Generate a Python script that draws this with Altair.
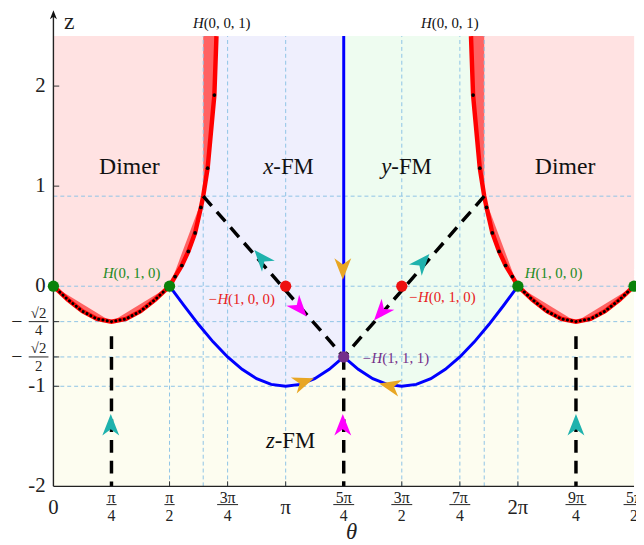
import altair as alt
import pandas as pd

# theta values are in units of pi
low_l_t = [0, 0.0625, 0.125, 0.1875, 0.25, 0.3125, 0.375, 0.4375, 0.5]
low_l_z = [0, -0.135, -0.25, -0.327, -0.354, -0.327, -0.25, -0.135, 0]
low_r_t = [2.0, 2.0625, 2.125, 2.1875, 2.25, 2.3125, 2.375, 2.4375, 2.5]
low_r_z = [0, -0.135, -0.25, -0.327, -0.354, -0.327, -0.25, -0.135, 0]
up_l_t = [0.5, 0.524, 0.553, 0.581, 0.610, 0.635, 0.645, 0.664, 0.693, 0.702]
up_l_z = [0, 0.096, 0.207, 0.348, 0.533, 0.787, 0.9, 1.18, 1.91, 2.5]
up_r_t = [1.798, 1.807, 1.836, 1.855, 1.865, 1.890, 1.919, 1.947, 1.976, 2.0]
up_r_z = [2.5, 1.91, 1.18, 0.9, 0.787, 0.533, 0.348, 0.207, 0.096, 0]
dot_l_t = [0.524, 0.553, 0.581, 0.610, 0.635, 0.664, 0.693]
dot_l_z = [0.096, 0.207, 0.348, 0.533, 0.787, 1.18, 1.91]
dot_r_t = [1.807, 1.836, 1.865, 1.890, 1.919, 1.947, 1.976]
dot_r_z = [1.91, 1.18, 0.787, 0.533, 0.348, 0.207, 0.096]
pink_l_t = [0, 0.25, 0.5, 0.645]
pink_l_z = [0, -0.354, 0, 0.9]
pink_r_t = [1.855, 2.0, 2.25, 2.5]
pink_r_z = [0.9, 0, -0.354, 0]
blue_l_t = [0.5, 0.5625, 0.625, 0.6875, 0.75, 0.8125, 0.875, 0.9375, 1.0, 1.0625, 1.125, 1.1875, 1.25]
blue_l_z = [0, -0.195, -0.383, -0.556, -0.707, -0.831, -0.924, -0.981, -1.0, -0.981, -0.924, -0.831, -0.707]
blue_r_t = [1.25, 1.3125, 1.375, 1.4375, 1.5, 1.5625, 1.625, 1.6875, 1.75, 1.8125, 1.875, 1.9375, 2.0]
blue_r_z = [-0.707, -0.831, -0.924, -0.981, -1.0, -0.981, -0.924, -0.831, -0.707, -0.556, -0.383, -0.195, 0]
grid_v_full = [0.645, 0.75, 1.0, 1.5, 1.75, 1.855]
grid_v_part = [0.5, 2.0]
grid_h = [0.9, 0, -0.354, -0.707, -1.0]
dash_seg = [0, 0, 1, 1, 2, 2, 3, 3, 4, 4]
dash_t = [0.645, 1.25, 1.855, 1.25, 0.25, 0.25, 1.25, 1.25, 2.25, 2.25]
dash_z = [0.9, -0.707, 0.9, -0.707, -0.5, -2.0, -0.707, -2.0, -0.5, -2.0]
pt_t = [0, 0.5, 2.0, 2.5, 1.0, 1.5, 1.25]
pt_z = [0, 0, 0, 0, 0, 0, -0.707]
pt_c = ["#0a820a"] * 4 + ["#ee1111"] * 2 + ["#74308a"]
arr_t = [0.897, 1.059, 1.246, 1.587, 1.412, 1.076, 1.450, 0.247, 1.246, 2.25]
arr_z = [0.276, -0.217, 0.178, 0.237, -0.257, -0.958, -0.997, -1.39, -1.39, -1.39]
arr_a = [319, 139, 180, 41, 221, 70, 283, 0, 0, 0]
arr_c = ["#1fb2ad", "#ff00ff", "#e8a623", "#1fb2ad", "#ff00ff", "#e8a623", "#e8a623", "#1fb2ad", "#ff00ff", "#1fb2ad"]
lab_t = [0.947, 1.455, 0.953, 0.647, 1.629, 0.259, 2.076, 0.752, 1.616, 1.416]
lab_z = [1.19, 1.19, -1.55, 2.63, 2.63, 0.128, 0.128, -0.128, -0.11, -0.72]
lab_it = ["x", "y", "z", "H", "H", "H", "H", "−H", "−H", "−H"]
lab_rm = ["-FM", "-FM", "-FM", "(0, 0, 1)", "(0, 0, 1)", "(0, 1, 0)", "(1, 0, 0)", "(1, 0, 0)", "(0, 1, 0)", "(1, 1, 1)"]
lab_c = ["#111"] * 5 + ["#228b22"] * 2 + ["#e82020"] * 2 + ["#74308a"]
lab_s = [23, 23, 23, 15, 15, 15, 15, 15, 15, 15]
dimer_t = [0.327, 2.203]
dimer_z = [1.19, 1.19]
xint_t = [0, 1.0, 2.0]
xint_txt = ["0", "π", "2π"]
xfr_t = [0.25, 0.5, 0.75, 1.25, 1.5, 1.75, 2.25, 2.5]
xfr_num = ["π", "π", "3π", "5π", "3π", "7π", "9π", "5π"]
xfr_den = ["4", "2", "4", "4", "2", "4", "4", "2"]
xfr_w = [0.022, 0.022, 0.045, 0.045, 0.045, 0.045, 0.045, 0.045]
yint_z = [2, 1, 0, -1, -2]
yint_txt = ["2", "1", "0", "-1", "-2"]
yfr_z = [-0.354, -0.707]
yfr_den = ["4", "2"]

FONT = "Liberation Serif"
W, H = 588, 456
xs = alt.Scale(domain=[0, 2.5], nice=False, zero=False)
ys = alt.Scale(domain=[-2, 2.5], nice=False, zero=False)


def X(f="t"):
    return alt.X(f + ":Q", scale=xs, axis=None)


def Y(f="z"):
    return alt.Y(f + ":Q", scale=ys, axis=None)


def seg_df(*pairs):
    rows = []
    for s, (ts, zs) in enumerate(pairs):
        for i, (t, z) in enumerate(zip(ts, zs)):
            rows.append({"seg": s, "i": i, "t": t, "z": z})
    return pd.DataFrame(rows)


def area(ts, zs, color):
    d = pd.DataFrame({"t": ts, "z": zs, "top": [2.5] * len(ts)})
    return alt.Chart(d).mark_area(color=color, opacity=1, orient="vertical").encode(
        x=X(), y=alt.Y("z:Q", scale=ys, axis=None, stack=None), y2=alt.Y2("top:Q"))


layers = []
layers.append(area(blue_l_t, blue_l_z, "#efeffd"))
layers.append(area(blue_r_t, blue_r_z, "#eefcf0"))
layers.append(area(low_l_t + up_l_t[1:], low_l_z + up_l_z[1:], "#ff6262"))
layers.append(area(up_r_t + low_r_t[1:], up_r_z + low_r_z[1:], "#ff6262"))
layers.append(area(pink_l_t, pink_l_z, "#ffe2e2"))
layers.append(area(pink_r_t, pink_r_z, "#ffe2e2"))

gstyle = dict(color="#8ec3e6", strokeDash=[4, 3], strokeWidth=1)
gv = pd.DataFrame({"t": grid_v_full + grid_v_part,
                   "lo": [-2.0] * (len(grid_v_full) + len(grid_v_part)),
                   "hi": [2.5] * len(grid_v_full) + [0.0] * len(grid_v_part)})
layers.append(alt.Chart(gv).mark_rule(**gstyle).encode(x=X(), y=Y("lo"), y2=alt.Y2("hi:Q")))
gh = pd.DataFrame({"z": grid_h, "lo": [0.0] * len(grid_h), "hi": [2.5] * len(grid_h)})
layers.append(alt.Chart(gh).mark_rule(**gstyle).encode(y=Y(), x=X("lo"), x2=alt.X2("hi:Q")))

# blue boundaries
blue = seg_df((blue_l_t, blue_l_z), (blue_r_t, blue_r_z), ([1.25, 1.25], [-0.707, 2.5]))
layers.append(alt.Chart(blue).mark_line(color="#0000ff", strokeWidth=3).encode(
    x=X(), y=Y(), detail="seg:N", order=alt.Order("i:Q")))

# red boundaries
red = seg_df((low_l_t, low_l_z), (up_l_t, up_l_z), (up_r_t, up_r_z), (low_r_t, low_r_z))
layers.append(alt.Chart(red).mark_line(color="#ff0000", strokeWidth=4.5).encode(
    x=X(), y=Y(), detail="seg:N", order=alt.Order("i:Q")))
dotted = seg_df((low_l_t, low_l_z), (low_r_t, low_r_z))
layers.append(alt.Chart(dotted).mark_line(color="black", strokeWidth=3, strokeDash=[0.1, 4.3],
                                          strokeCap="round").encode(
    x=X(), y=Y(), detail="seg:N", order=alt.Order("i:Q")))
dots = pd.DataFrame({"t": dot_l_t + dot_r_t, "z": dot_l_z + dot_r_z})
layers.append(alt.Chart(dots).mark_circle(color="black", size=14, opacity=1).encode(x=X(), y=Y()))

# black dashed
dd = pd.DataFrame({"seg": dash_seg, "t": dash_t, "z": dash_z, "i": list(range(len(dash_t)))})
layers.append(alt.Chart(dd).mark_line(color="black", strokeWidth=3.5, strokeDash=[13, 8]).encode(
    x=X(), y=Y(), detail="seg:N", order=alt.Order("i:Q")))

# axes
layers.append(alt.Chart(pd.DataFrame({"t": [0.0], "lo": [-2.0], "hi": [2.72]})).mark_rule(
    color="#222", strokeWidth=1.4).encode(x=X(), y=Y("lo"), y2=alt.Y2("hi:Q")))
layers.append(alt.Chart(pd.DataFrame({"z": [-2.0], "lo": [0.0], "hi": [2.5]})).mark_rule(
    color="#222", strokeWidth=1.4).encode(y=Y(), x=X("lo"), x2=alt.X2("hi:Q")))
layers.append(alt.Chart(pd.DataFrame({"t": [0.0], "z": [2.71]})).mark_point(
    shape="M0,-1L0.75,0.9L0,0.35L-0.75,0.9Z", filled=True, color="#111", size=90, opacity=1,
    strokeWidth=0).encode(x=X(), y=Y()))
ytk = [2, 1, 0, -0.354, -0.707, -1]
layers.append(alt.Chart(pd.DataFrame({"z": ytk, "lo": [0.0] * 6, "hi": [0.025] * 6})).mark_rule(
    color="#333", strokeWidth=1).encode(y=Y(), x=X("lo"), x2=alt.X2("hi:Q")))
xtk = [0.5, 0.75, 1.0, 1.5, 1.75, 2.0]
layers.append(alt.Chart(pd.DataFrame({"t": xtk, "lo": [-2.0] * 6, "hi": [-1.95] * 6})).mark_rule(
    color="#333", strokeWidth=1).encode(x=X(), y=Y("lo"), y2=alt.Y2("hi:Q")))

# points
pts = pd.DataFrame({"t": pt_t, "z": pt_z, "c": pt_c})
layers.append(alt.Chart(pts).mark_circle(size=130, opacity=1).encode(
    x=X(), y=Y(), color=alt.Color("c:N", scale=None)))

# arrow heads
arr = pd.DataFrame({"t": arr_t, "z": arr_z, "a": arr_a, "c": arr_c})
layers.append(alt.Chart(arr).mark_point(
    shape="M0,-1L0.75,0.9L0,0.35L-0.75,0.9Z", filled=True, size=520, opacity=1, strokeWidth=0).encode(
    x=X(), y=Y(), angle=alt.Angle("a:Q", scale=None), color=alt.Color("c:N", scale=None)))

# region and point labels
lab = pd.DataFrame({"t": lab_t, "z": lab_z, "a": lab_it, "b": lab_rm, "c": lab_c, "s": lab_s})
layers.append(alt.Chart(lab).mark_text(font=FONT, fontStyle="italic", align="right",
                                       baseline="middle").encode(
    x=X(), y=Y(), text="a:N", color=alt.Color("c:N", scale=None), size=alt.Size("s:Q", scale=None)))
layers.append(alt.Chart(lab).mark_text(font=FONT, align="left", baseline="middle").encode(
    x=X(), y=Y(), text="b:N", color=alt.Color("c:N", scale=None), size=alt.Size("s:Q", scale=None)))
layers.append(alt.Chart(pd.DataFrame({"t": dimer_t, "z": dimer_z, "s": ["Dimer", "Dimer"]})).mark_text(
    font=FONT, fontSize=24, color="#111", baseline="middle").encode(x=X(), y=Y(), text="s:N"))

# tick labels
tstyle = dict(font=FONT, color="#222", baseline="middle")
layers.append(alt.Chart(pd.DataFrame({"t": xint_t, "s": xint_txt})).mark_text(fontSize=21, **tstyle).encode(
    x=X(), y=alt.value(H + 22), text="s:N"))
xf = pd.DataFrame({"t": xfr_t, "n": xfr_num, "d": xfr_den,
                   "lo": [a - w for a, w in zip(xfr_t, xfr_w)], "hi": [a + w for a, w in zip(xfr_t, xfr_w)]})
layers.append(alt.Chart(xf).mark_text(fontSize=16, **tstyle).encode(x=X(), y=alt.value(H + 12), text="n:N"))
layers.append(alt.Chart(xf).mark_text(fontSize=16, **tstyle).encode(x=X(), y=alt.value(H + 30), text="d:N"))
layers.append(alt.Chart(xf).mark_rule(color="#222", strokeWidth=1).encode(
    x=X("lo"), x2=alt.X2("hi:Q"), y=alt.value(H + 18.5)))
layers.append(alt.Chart(pd.DataFrame({"z": yint_z, "s": yint_txt})).mark_text(
    fontSize=21, align="right", **tstyle).encode(x=alt.value(-8), y=Y(), text="s:N"))
yf = pd.DataFrame({"z": yfr_z, "d": yfr_den, "n": ["√2", "√2"], "m": ["−", "−"]})
layers.append(alt.Chart(yf).mark_text(fontSize=15, dy=-9, **tstyle).encode(
    x=alt.value(-15), y=Y(), text="n:N"))
layers.append(alt.Chart(yf).mark_text(fontSize=15, dy=9, **tstyle).encode(
    x=alt.value(-15), y=Y(), text="d:N"))
layers.append(alt.Chart(yf).mark_text(fontSize=20, **tstyle).encode(
    x=alt.value(-37), y=Y(), text="m:N"))
layers.append(alt.Chart(yf).mark_rule(color="#222", strokeWidth=1).encode(
    x=alt.value(-25), x2=alt.value(-5), y=Y()))
layers.append(alt.Chart(pd.DataFrame({"s": ["θ"]})).mark_text(
    fontSize=23, fontStyle="italic", **tstyle).encode(x=alt.value(302), y=alt.value(H + 46), text="s:N"))
layers.append(alt.Chart(pd.DataFrame({"s": ["z"]})).mark_text(
    fontSize=24, **tstyle).encode(x=alt.value(16), y=alt.value(-14), text="s:N"))

chart = alt.layer(*layers).properties(
    width=W, height=H,
    autosize=alt.AutoSizeParams(type="none"),
    padding={"left": 46, "top": 25, "right": 2, "bottom": 56},
).configure_view(fill="#fdfdf0", stroke=None)

chart.save("out.html", embed_options={"renderer": "svg", "actions": False})
